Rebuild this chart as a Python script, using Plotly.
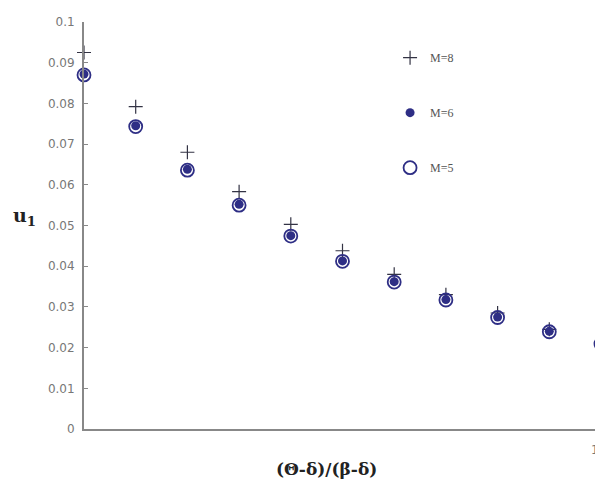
import plotly.graph_objects as go

x_vals = [0.0, 0.1, 0.2, 0.3, 0.4, 0.5, 0.6, 0.7, 0.8, 0.9, 1.0]
u1_M8 = [0.0925, 0.0792, 0.0680, 0.0583, 0.0503, 0.0438, 0.0380, 0.0330, 0.0285, 0.0245, 0.0215]
u1_M6 = [0.0872, 0.0745, 0.0638, 0.0552, 0.0475, 0.0413, 0.0362, 0.0318, 0.0275, 0.0240, 0.0210]
u1_M5 = [0.0870, 0.0743, 0.0636, 0.0550, 0.0474, 0.0412, 0.0361, 0.0317, 0.0274, 0.0239, 0.0209]
y_ticks = [0, 0.01, 0.02, 0.03, 0.04, 0.05, 0.06, 0.07, 0.08, 0.09, 0.1]
y_tick_text = ["0", "0.01", "0.02", "0.03", "0.04", "0.05", "0.06", "0.07", "0.08", "0.09", "0.1"]
x_ticks = [1]
x_tick_text = ["1"]

navy = "#2e2e85"
tick_font = dict(family="DejaVu Sans", size=12, color="#777777")

fig = go.Figure()
fig.add_trace(go.Scatter(
    x=x_vals, y=u1_M8, mode="markers", name="M=8", legendgroup="a", legendrank=1,
    marker=dict(symbol="cross-thin", size=10, color="#333344",
                line=dict(color="#333344", width=1.2)),
    cliponaxis=False))
fig.add_trace(go.Scatter(
    x=x_vals, y=u1_M5, mode="markers", name="M=5", legendgroup="c", legendrank=3,
    marker=dict(symbol="circle-open", size=13, color=navy,
                line=dict(color=navy, width=1.8)),
    cliponaxis=False))
fig.add_trace(go.Scatter(
    x=x_vals, y=u1_M6, mode="markers", name="M=6", legendgroup="b", legendrank=2,
    marker=dict(symbol="circle", size=9, color=navy),
    cliponaxis=False))

fig.update_layout(
    width=595, height=481,
    margin=dict(l=76, r=2, t=14, b=60, autoexpand=False),
    plot_bgcolor="white", paper_bgcolor="white",
    showlegend=True,
    legend=dict(x=0.592, y=0.948, xanchor="left", yanchor="top",
                font=dict(family="Liberation Serif", size=12, color="#555555"),
                tracegroupgap=36, traceorder="grouped",
                bgcolor="rgba(0,0,0,0)"),
    xaxis=dict(range=[0, 1], showgrid=False, zeroline=False, automargin=False,
               showline=True, linecolor="#888888", linewidth=2,
               tickvals=x_ticks, ticktext=[""], ticks="inside", ticklen=4,
               tickcolor="#888888", tickfont=tick_font),
    yaxis=dict(range=[0, 0.1], showgrid=False, zeroline=False, automargin=False,
               showline=True, linecolor="#888888", linewidth=2,
               tickvals=y_ticks, ticktext=y_tick_text, ticks="inside", ticklen=4,
               tickcolor="#888888", ticklabelstandoff=5, tickfont=tick_font),
)
# x tick label at the right end (drawn as annotation so it is not hidden at the edge)
fig.add_annotation(text=x_tick_text[0], x=x_ticks[0], xref="x", yref="paper",
                   y=-0.03, xanchor="right", yanchor="top", showarrow=False,
                   font=tick_font)
fig.add_annotation(text="<b>u<sub>1</sub></b>", xref="paper", yref="paper",
                   x=-0.089, y=0.521, xanchor="right", showarrow=False,
                   font=dict(family="DejaVu Serif", size=19, color="#222222"))
fig.add_annotation(text="<b>(Θ-δ)/(β-δ)</b>", xref="paper", yref="paper",
                   x=0.47, y=-0.07, yanchor="top", showarrow=False,
                   font=dict(family="DejaVu Serif", size=17, color="#222222"))

fig.write_html("out.html")
